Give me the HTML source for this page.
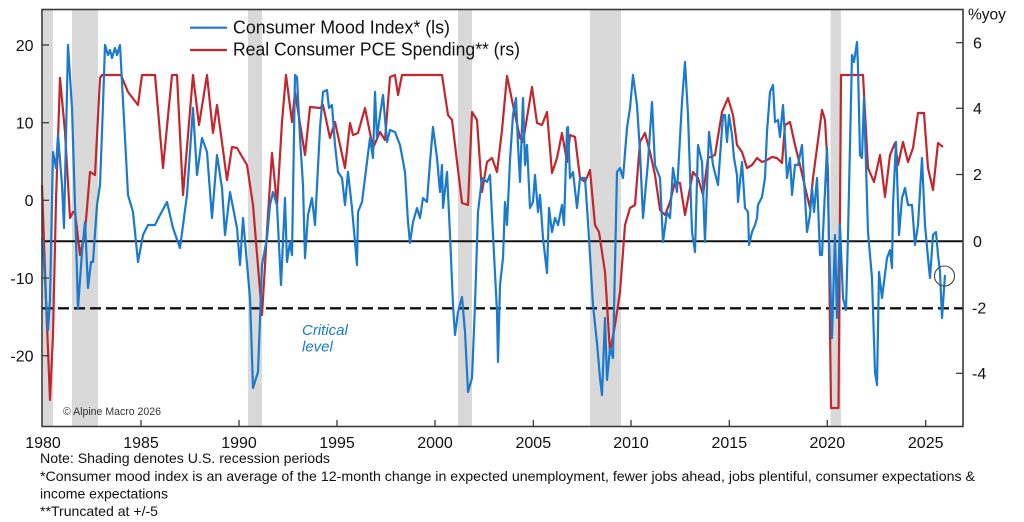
<!DOCTYPE html>
<html>
<head>
<meta charset="utf-8">
<style>
html,body{margin:0;padding:0;background:#fff;}
svg{display:block;}
text{font-family:"Liberation Sans",Arial,sans-serif;}
</style>
</head>
<body>
<svg width="1024" height="522" viewBox="0 0 1024 522" xmlns="http://www.w3.org/2000/svg">
<rect x="0" y="0" width="1024" height="522" fill="#ffffff"/>
<!-- recession shading -->
<g fill="#d9d9d9">
<rect x="43" y="10" width="10" height="416"/>
<rect x="72" y="10" width="26" height="416"/>
<rect x="248" y="10" width="14" height="416"/>
<rect x="458" y="10" width="14" height="416"/>
<rect x="590" y="10" width="31" height="416"/>
<rect x="830.5" y="10" width="10.5" height="416"/>
</g>
<!-- zero line & critical level -->
<line x1="42" y1="241.3" x2="963" y2="241.3" stroke="#111" stroke-width="2"/>
<line x1="42" y1="308.3" x2="963" y2="308.3" stroke="#111" stroke-width="2.4" stroke-dasharray="11,5"/>

<!-- red series -->
<polyline fill="none" stroke="#c1272d" stroke-width="2.2" stroke-linejoin="round" points="
42,185 46,300 50,400 53,335 56,200 60,78 65,132 70,218 73,212 75,212 80,255 85,232 90,172 95,175 100,78 102,75 121,75 128,92 138,105 142,75 155,75 163,168 172,75 177,75 183,195 193,75 199,125 207,75 213,133 217,105 227,180 232,147 237,148 247,165 253,205 262,315 268,215 272,153 277,205 282,122 286,75 292,122 295,92 305,155 310,107 320,108 323,105 330,138 335,122 345,168 350,123 353,135 358,133 365,108 373,148 380,132 385,140 390,77 395,75 398,95 402,75 442,75 448,115 452,120 462,203 468,205 472,112 477,120 482,192 487,162 492,158 497,172 502,130 507,76 513,105 520,138 523,142 532,87 537,123 542,125 547,112 552,173 557,158 562,133 567,162 570,135 575,137 580,178 585,182 590,170 595,225 599,232 605,272 610,352 615,325 620,292 625,225 630,208 635,205 640,142 645,133 650,152 655,175 660,210 665,215 670,202 675,182 680,183 685,215 693,172 698,178 703,195 708,158 715,155 722,112 728,98 733,115 737,145 742,152 747,168 752,165 757,158 762,162 767,160 772,157 777,158 782,163 785,125 790,122 795,145 800,165 805,187 810,208 813,178 817,148 822,110 825,120 828,172 831,408 838.5,408 841,75 863,75 868,168 874,182 880,155 885,197 890,155 895,143 898,165 903,142 908,162 913,148 918,113 924,113 928,168 933,190 938,143 943,147"/>

<!-- blue series -->
<polyline fill="none" stroke="#1b7acb" stroke-width="2.2" stroke-linejoin="round" points="
42,238 43,245 46,300 48,330 50,300 53,152 56,168 58,135 62,185 64,228 68,45 72,108 75,205 78,308 82,252 85,222 88,288 91,262 93,262 97,205 100,185 103,105 105,45 108,55 110,50 112,58 115,48 117,55 120,45 125,138 128,195 133,212 138,262 143,235 148,225 155,225 160,215 167,202 173,228 180,248 187,195 193,108 197,175 202,138 207,152 212,218 217,155 222,188 225,235 230,192 237,228 240,265 243,218 250,298 253,388 258,372 262,265 267,238 270,205 273,192 277,205 281,285 285,198 287,262 290,242 292,255 295,75 297,77 300,138 303,185 305,258 308,215 312,198 315,225 320,128 323,92 327,90 329,108 332,105 335,145 338,172 342,178 345,205 348,172 352,208 357,265 358,212 362,202 367,162 370,138 373,158 375,92 377,138 380,115 383,95 387,142 390,130 395,132 400,145 405,172 408,222 410,243 413,222 417,208 420,218 423,198 427,202 430,162 433,127 437,158 440,192 442,165 443,208 447,172 450,235 453,305 455,335 458,312 462,297 465,332 468,392 472,378 475,305 478,212 482,178 487,182 490,175 493,235 497,312 498,362 500,285 503,258 505,202 507,225 510,160 513,115 516,98 518,145 520,182 523,98 525,165 527,145 530,208 533,202 535,175 538,212 540,195 543,238 547,273 549,208 552,232 555,218 558,225 562,205 564,225 567,128 568,127 570,178 573,172 577,208 580,178 585,178 588,222 593,305 597,343 600,378 602,395 605,318 607,380 610,348 613,358 617,172 620,168 623,178 627,128 630,108 633,75 637,105 640,152 643,218 648,162 652,102 655,165 660,178 663,242 667,212 670,218 673,168 677,192 682,102 685,62 688,115 692,232 695,252 698,145 702,162 705,242 709,132 713,165 718,185 723,115 725,115 727,142 729,115 732,135 734,158 737,175 738,202 742,162 745,208 748,212 749,245 752,232 755,225 757,218 758,205 762,197 765,178 767,132 770,92 773,85 775,122 778,120 780,137 783,105 785,138 787,178 790,158 792,195 795,165 798,165 802,145 807,232 810,215 812,188 814,212 817,178 820,255 822,255 827,148 829,238 832,338 835,235 837,318 840,225 843,298 846,310 848,235 852,55 854,62 857,42 858,67 860,155 862,158 864,98 868,232 872,278 875,372 877,385 879,272 882,298 887,258 890,250 892,268 893,205 896,142 899,235 902,198 905,188 908,205 912,205 915,245 918,225 922,158 925,225 928,258 930,278 933,235 936,232 938,255 940,272 942,318 945,275"/>

<!-- highlight circle -->
<circle cx="944.5" cy="276" r="10" fill="none" stroke="#444" stroke-width="1.1"/>

<!-- frame -->
<rect x="42" y="9.5" width="921" height="417" fill="none" stroke="#3a3a3a" stroke-width="1.6"/>

<!-- ticks -->
<g stroke="#3a3a3a" stroke-width="1.3">
<line x1="42" y1="45" x2="49" y2="45"/>
<line x1="42" y1="122.7" x2="49" y2="122.7"/>
<line x1="42" y1="200.3" x2="49" y2="200.3"/>
<line x1="42" y1="278" x2="49" y2="278"/>
<line x1="42" y1="355.7" x2="49" y2="355.7"/>
<line x1="956" y1="42.7" x2="963" y2="42.7"/>
<line x1="956" y1="108.3" x2="963" y2="108.3"/>
<line x1="956" y1="174.5" x2="963" y2="174.5"/>
<line x1="956" y1="373.3" x2="963" y2="373.3"/>
<line x1="141" y1="426" x2="141" y2="420"/>
<line x1="239" y1="426" x2="239" y2="420"/>
<line x1="337" y1="426" x2="337" y2="420"/>
<line x1="435" y1="426" x2="435" y2="420"/>
<line x1="533.3" y1="426" x2="533.3" y2="420"/>
<line x1="631" y1="426" x2="631" y2="420"/>
<line x1="729.3" y1="426" x2="729.3" y2="420"/>
<line x1="827.3" y1="426" x2="827.3" y2="420"/>
<line x1="925.7" y1="426" x2="925.7" y2="420"/>
</g>

<!-- left axis labels -->
<g font-size="16" fill="#111" text-anchor="end">
<text x="33.5" y="50.8">20</text>
<text x="33.5" y="128.5">10</text>
<text x="33.5" y="206">0</text>
<text x="33.5" y="283.8">-10</text>
<text x="33.5" y="361.5">-20</text>
</g>
<!-- right axis labels -->
<g font-size="16" fill="#111" text-anchor="start">
<text x="968" y="19.5" font-size="15.5">%yoy</text>
<text x="973" y="48.5">6</text>
<text x="973" y="114">4</text>
<text x="973" y="180">2</text>
<text x="973" y="247">0</text>
<text x="972" y="313.5">-2</text>
<text x="972" y="379">-4</text>
</g>
<!-- x axis labels -->
<g font-size="16" fill="#111" text-anchor="middle">
<text x="43" y="448">1980</text>
<text x="141" y="448">1985</text>
<text x="239" y="448">1990</text>
<text x="337" y="448">1995</text>
<text x="435" y="448">2000</text>
<text x="533.3" y="448">2005</text>
<text x="631" y="448">2010</text>
<text x="729.3" y="448">2015</text>
<text x="827.3" y="448">2020</text>
<text x="925.7" y="448">2025</text>
</g>

<!-- legend -->
<line x1="190" y1="27.7" x2="227" y2="27.7" stroke="#1b7acb" stroke-width="2.2"/>
<line x1="190" y1="50" x2="227" y2="50" stroke="#c1272d" stroke-width="2.2"/>
<text x="233" y="33.3" font-size="18" fill="#111" textLength="217" lengthAdjust="spacingAndGlyphs">Consumer Mood Index* (ls)</text>
<text x="233" y="55.5" font-size="18" fill="#111" textLength="287" lengthAdjust="spacingAndGlyphs">Real Consumer PCE Spending** (rs)</text>

<!-- annotations -->
<text x="302" y="335" font-size="15" font-style="italic" fill="#1b7acb">Critical</text>
<text x="302" y="351.5" font-size="15" font-style="italic" fill="#1b7acb">level</text>
<text x="63" y="415" font-size="11" fill="#333" textLength="98" lengthAdjust="spacingAndGlyphs">© Alpine Macro 2026</text>

<!-- footnotes -->
<g font-size="14" fill="#111">
<text x="40" y="463" textLength="290" lengthAdjust="spacingAndGlyphs">Note: Shading denotes U.S. recession periods</text>
<text x="40" y="481" textLength="935" lengthAdjust="spacingAndGlyphs">*Consumer mood index is an average of the 12-month change in expected unemployment, fewer jobs ahead, jobs plentiful, consumer expectations &amp;</text>
<text x="40" y="498.5" textLength="128" lengthAdjust="spacingAndGlyphs">income expectations</text>
<text x="40" y="516" textLength="118" lengthAdjust="spacingAndGlyphs">**Truncated at +/-5</text>
</g>
</svg>
</body>
</html>
